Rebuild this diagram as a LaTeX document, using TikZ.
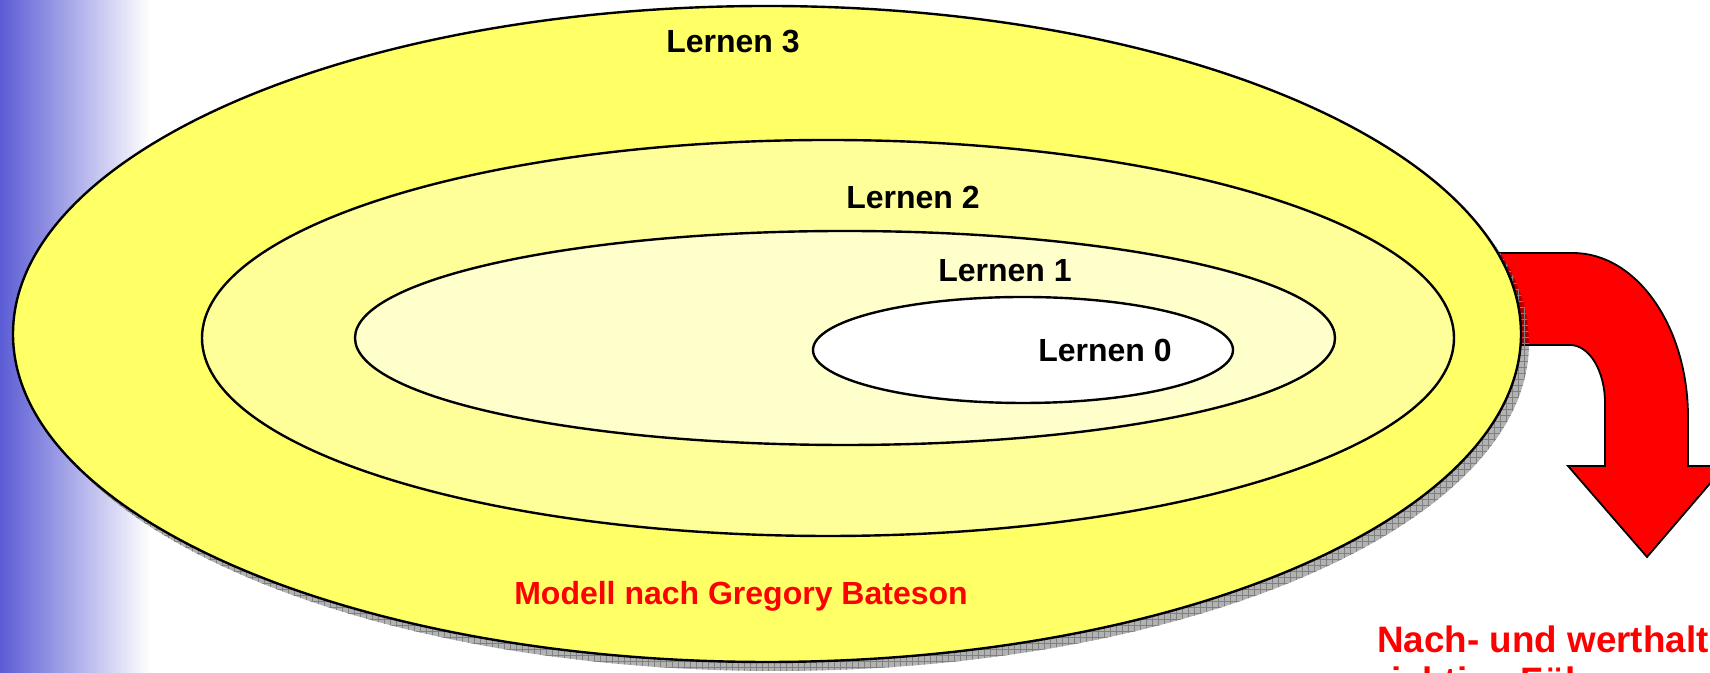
\documentclass[tikz,border=0pt]{standalone}
\usepackage{fontspec}
\setmainfont{Liberation Sans}
\usetikzlibrary{patterns}
\definecolor{edgeblue}{RGB}{92,92,214}
\definecolor{ringthree}{RGB}{255,255,102}
\definecolor{ringtwo}{RGB}{255,255,153}
\definecolor{ringone}{RGB}{255,255,204}
\definecolor{arrowred}{RGB}{255,0,0}

\begin{document}
\begin{tikzpicture}[
    x=0.5pt, y=0.5pt,
    % Shape styles
    ring/.style={draw=black, line width=1.2pt},
    discshadow/.style={fill=black, fill opacity=0.3},
    shadowgrid/.style={pattern=grid, pattern color=gray},
    bendarrow/.style={draw=black, line width=0.9pt, fill=arrowred, line join=miter},
    % Text styles
    level/.style={font=\fontsize{16}{19}\selectfont\bfseries, anchor=base, inner sep=0pt},
    caption/.style={font=\fontsize{16}{19}\selectfont\bfseries, text=arrowred, anchor=base, inner sep=0pt},
    remark/.style={font=\fontsize{18.4}{21}\selectfont\bfseries, text=arrowred, anchor=base west, inner sep=0pt},
]
\useasboundingbox (0,0) rectangle (1710,673);

% Background with blue edge
\fill[white] (0,0) rectangle (1710,673);
\shade[left color=edgeblue, middle color=edgeblue!45, right color=white] (0,0) rectangle (150,673);

% Red bent arrow, starts behind the disc
\draw[bendarrow] (1470,420) -- (1573,420)
    arc[start angle=90, end angle=0, x radius=115, y radius=164]
    -- (1688,207) -- (1725,207) -- (1647,116) -- (1568,207) -- (1605,207) -- (1605,270)
    arc[start angle=0, end angle=90, x radius=35, y radius=58]
    -- (1470,328) -- cycle;

% Shadow of the outer disc
\fill[discshadow] (775,330) ellipse[x radius=754, y radius=328];
\fill[shadowgrid] (775,330) ellipse[x radius=754, y radius=328];

% Nested rings
\draw[ring, fill=ringthree] (767,339) ellipse[x radius=754, y radius=328];
\draw[ring, fill=ringtwo] (828,335) ellipse[x radius=626, y radius=198];
\draw[ring, fill=ringone] (845,335) ellipse[x radius=490, y radius=107];
\draw[ring, fill=white] (1023,323) ellipse[x radius=210, y radius=53];

% Level labels
\node[level] (lthree) at (733,620) {Lernen 3};
\node[level] (ltwo) at (913,464) {Lernen 2};
\node[level] (lone) at (1005,391) {Lernen 1};
\node[level] (lzero) at (1105,311) {Lernen 0};

% Captions
\node[caption] (model) at (741,68) {Modell nach Gregory Bateson};
\node[remark] (noteone) at (1377,20) {Nach- und werthaltige};
\node[remark] (notetwo) at (1377,-21) {richtige Führung};

\end{tikzpicture}
\end{document}
